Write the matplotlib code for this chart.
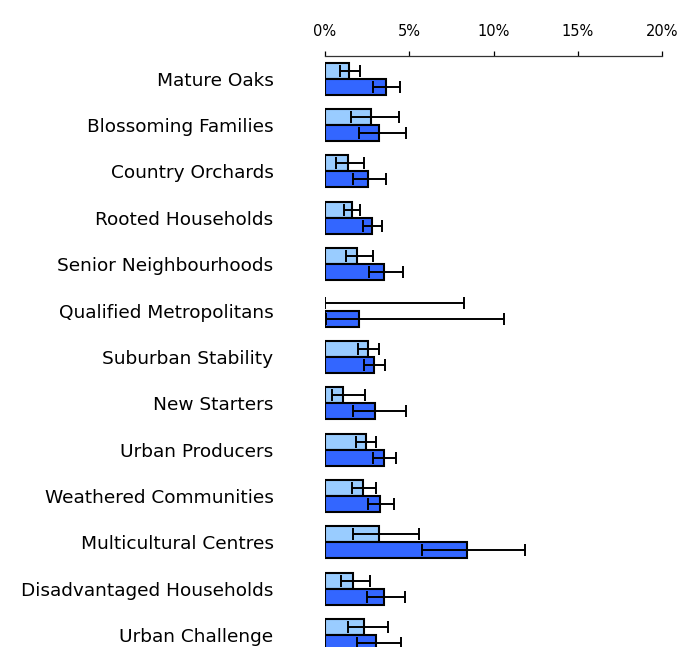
import numpy as np
import matplotlib
matplotlib.use("Agg")
import matplotlib.pyplot as plt
from matplotlib.ticker import FuncFormatter

categories = [
    "Mature Oaks", "Blossoming Families", "Country Orchards", "Rooted Households",
    "Senior Neighbourhoods", "Qualified Metropolitans", "Suburban Stability",
    "New Starters", "Urban Producers", "Weathered Communities",
    "Multicultural Centres", "Disadvantaged Households", "Urban Challenge",
]
# light series (%), with lower / upper interval ends
light = [1.42, 2.71, 1.34, 1.58, 1.92, 0.0, 2.57, 1.09, 2.41, 2.25, 3.22, 1.64, 2.33]
light_lo = [0.89, 1.54, 0.67, 1.15, 1.25, 0.0, 1.98, 0.40, 1.84, 1.62, 1.66, 0.95, 1.36]
light_hi = [2.08, 4.37, 2.31, 2.08, 2.83, 8.24, 3.20, 2.35, 3.02, 3.04, 5.55, 2.65, 3.72]
# dark series (%)
dark = [3.60, 3.22, 2.53, 2.79, 3.50, 2.02, 2.89, 2.94, 3.50, 3.26, 8.42, 3.52, 3.02]
dark_lo = [2.83, 2.00, 1.68, 2.27, 2.61, 0.05, 2.29, 1.64, 2.87, 2.53, 5.75, 2.49, 1.92]
dark_hi = [4.45, 4.80, 3.62, 3.40, 4.62, 10.63, 3.56, 4.78, 4.23, 4.11, 11.84, 4.74, 4.49]

plt.rcParams["font.family"] = ["DejaVu Sans"]

fig = plt.figure(figsize=(6.87, 6.47), dpi=100)
ax = fig.add_axes([0.473, -0.0175, 0.491, 0.9317])

y = np.arange(len(categories))
h = 0.345

def draw(vals, lo, hi, offset, color):
    vals = np.array(vals)
    lw = [0 if v == 0 else 1.5 for v in vals]
    ax.barh(y + offset, vals, height=h, color=color, edgecolor="black", linewidth=lw, zorder=2)
    err = [vals - np.array(lo), np.array(hi) - vals]
    ax.errorbar(vals, y + offset, xerr=err, fmt="none", ecolor="black",
                elinewidth=1.4, capsize=4.3, capthick=1.4, zorder=3)

draw(light, light_lo, light_hi, -h / 2, "#99CCFF")
draw(dark, dark_lo, dark_hi, h / 2, "#3366FF")

ax.set_xlim(0, 20)
ax.set_ylim(len(categories) - 0.5, -0.5)
ax.set_xticks([0, 5, 10, 15, 20])
ax.xaxis.set_major_formatter(FuncFormatter(lambda v, p: "%d%%" % v))
ax.xaxis.tick_top()
ax.tick_params(axis="x", length=3.6, width=0.9, pad=8.5, labelsize=10.5, colors="black")
ax.set_yticks(y)
ax.set_yticklabels(categories)
ax.tick_params(axis="y", length=0, pad=37, labelsize=13.3)

for s in ["left", "right", "bottom"]:
    ax.spines[s].set_visible(False)
ax.spines["top"].set_linewidth(0.9)
ax.spines["top"].set_color("#333333")

fig.savefig("out.png", dpi=100)
